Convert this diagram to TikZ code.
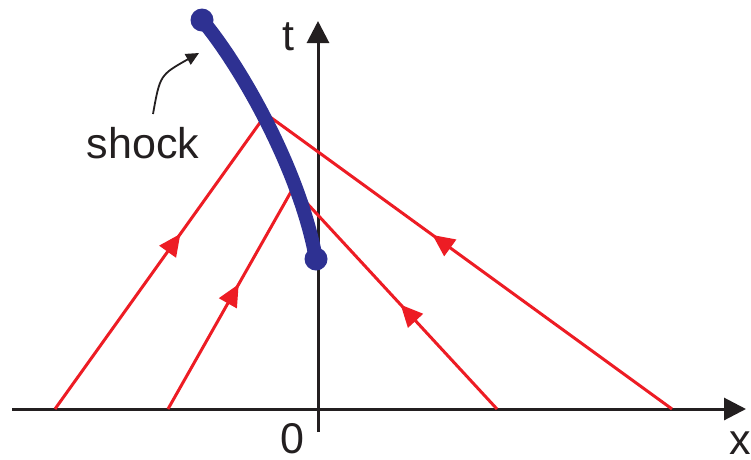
\documentclass[tikz,border=0pt]{standalone}
\usepackage{fontspec}
\setmainfont{Liberation Sans}
\usetikzlibrary{arrows.meta,decorations.markings}
\definecolor{rred}{RGB}{237,28,36}
\definecolor{sblue}{RGB}{46,49,146}
\definecolor{ink}{RGB}{35,31,32}
\begin{document}
\begin{tikzpicture}[x=1pt,y=-1pt,
  axis/.style={ink,line width=3pt,-{Triangle[length=22pt,width=22pt]}},
  charline/.style={rred,line width=3pt,postaction={decorate},
    decoration={markings,mark=at position #1 with {\arrow{Triangle[length=22pt,width=20pt]}}}},
  lbl/.style={font=\fontsize{43}{50}\selectfont,text=ink,inner sep=0pt},
  shockline/.style={sblue,line width=14pt,line cap=round},
  dot/.style={circle,fill=sblue,minimum size=23pt,inner sep=0pt}]
\useasboundingbox (0,0) rectangle (751,459);
% coordinates
\coordinate (xs) at (12,409);
\coordinate (xe) at (746,409);
\coordinate (ts) at (318,432);
\coordinate (te) at (318,21);
\coordinate (a1) at (55,409);
\coordinate (b1) at (264,117);
\coordinate (a2) at (168,409);
\coordinate (b2) at (292,190);
\coordinate (a3) at (672,409);
\coordinate (b3) at (266,114);
\coordinate (a4) at (497,409);
\coordinate (b4) at (292,187);
% axes
\draw[axis] (xs) -- (xe);
\draw[axis] (ts) -- (te);
% characteristics
\draw[charline=0.6] (a1) -- (b1);
\draw[charline=0.57] (a2) -- (b2);
\draw[charline=0.59] (a3) -- (b3);
\draw[charline=0.47] (a4) -- (b4);
% shock
\node[dot] (s0) at (202,20) {};
\node[dot] (s1) at (316,259) {};
\draw[shockline] (s0.center) .. controls (240,65) and (300,170) .. (s1.center);
% labels
\node[lbl] (tl) at (288,37) {t};
\node[lbl] (xl) at (740,443) {x};
\node[lbl] (zl) at (292,439) {0};
\node[lbl] (sl) at (143,143) {shock};
\coordinate (sa) at (153,114);
\coordinate (sb) at (199,53);
\draw[ink,line width=1.8pt,-{Triangle[length=13pt,width=12pt]}] (sa) .. controls (160,75) .. (sb);
\end{tikzpicture}
\end{document}
